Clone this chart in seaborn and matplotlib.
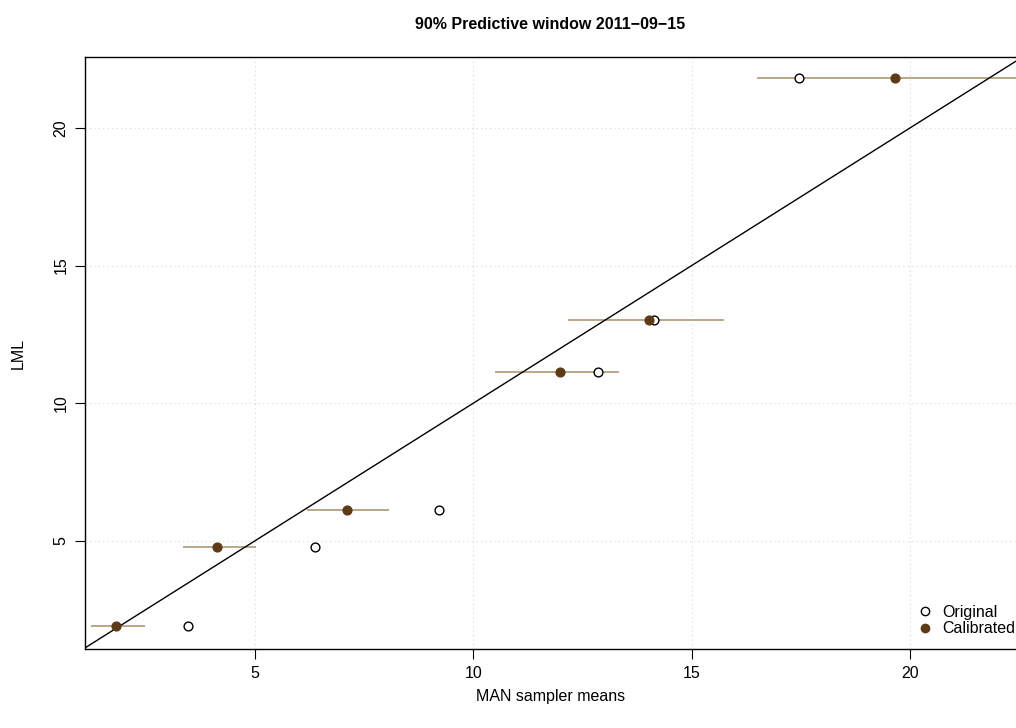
import numpy as np
import pandas as pd
import seaborn as sns
import matplotlib.pyplot as plt
from matplotlib.lines import Line2D

# values
lml = [1.91, 4.78, 6.13, 11.15, 13.04, 21.82]
original = [3.47, 6.37, 9.21, 12.85, 14.15, 17.45]
calibrated = [1.83, 4.13, 7.10, 11.98, 14.02, 19.65]
lower = [1.25, 3.35, 6.20, 10.50, 12.16, 16.50]
upper = [2.48, 5.03, 8.08, 13.33, 15.74, 23.50]

ticks = [5, 10, 15, 20]
title = "90% Predictive window 2011\u221209\u221215"
brown = "#5E3B16"
tan = "#BCA688"

sns.set_style("white")
plt.rcParams['font.family'] = ['Liberation Sans', 'DejaVu Sans']
plt.rcParams['text.color'] = 'black'
plt.rcParams['axes.labelcolor'] = 'black'

df = pd.DataFrame({"lml": lml, "original": original, "calibrated": calibrated,
                   "lower": lower, "upper": upper})

fig = plt.figure(figsize=(10.16, 7.28), dpi=100)
ax = fig.add_axes([0.0837, 0.1085, 0.9163, 0.8132])

#Grid lines
for t in ticks:
    ax.axvline(t, color="#d8d8d8", lw=0.8, ls=(0, (1, 3)), zorder=0)
    ax.axhline(t, color="#d8d8d8", lw=0.8, ls=(0, (1, 3)), zorder=0)

#Predictive intervals
ax.hlines(df["lml"], df["lower"], df["upper"], color=tan, lw=1.4, zorder=1)

#Identity line
ax.axline((0, 0), slope=1, color="black", lw=1, zorder=2)

sns.scatterplot(data=df, x="original", y="lml", ax=ax, s=40, marker="o",
                facecolor="white", edgecolor="black", linewidth=1, zorder=3)
sns.scatterplot(data=df, x="calibrated", y="lml", ax=ax, s=40, marker="o",
                color=brown, edgecolor=brown, linewidth=1, zorder=4)

ax.set_xlim(1.11, 22.43)
ax.set_ylim(1.07, 22.58)
ax.set_xticks(ticks)
ax.set_yticks(ticks)
ax.set_yticklabels([str(t) for t in ticks], rotation=90, va="center")
ax.tick_params(axis="both", direction="out", length=7, width=0.8, labelsize=11.5,
               pad=5, bottom=True, left=True, colors="black")
ax.spines["right"].set_visible(False)
for s in ["left", "top", "bottom"]:
    ax.spines[s].set_color("black")
    ax.spines[s].set_linewidth(1)

ax.set_xlabel("MAN sampler means", fontsize=11.5, labelpad=6)
ax.set_ylabel("LML", fontsize=11.5, labelpad=20)
ax.set_title(title, fontsize=11.5, fontweight="bold", pad=20, color="black")

handles = [
    Line2D([], [], marker="o", ls="none", markerfacecolor="white", markeredgecolor="black", markersize=6),
    Line2D([], [], marker="o", ls="none", markerfacecolor=brown, markeredgecolor=brown, markersize=6),
]
ax.legend(handles, ["Original", "Calibrated"], loc="lower right", frameon=False,
          fontsize=11.5, handletextpad=0.1, borderaxespad=0.2, labelspacing=0.1,
          bbox_to_anchor=(1.01, 0.005))

fig.savefig("out.png", dpi=100)
